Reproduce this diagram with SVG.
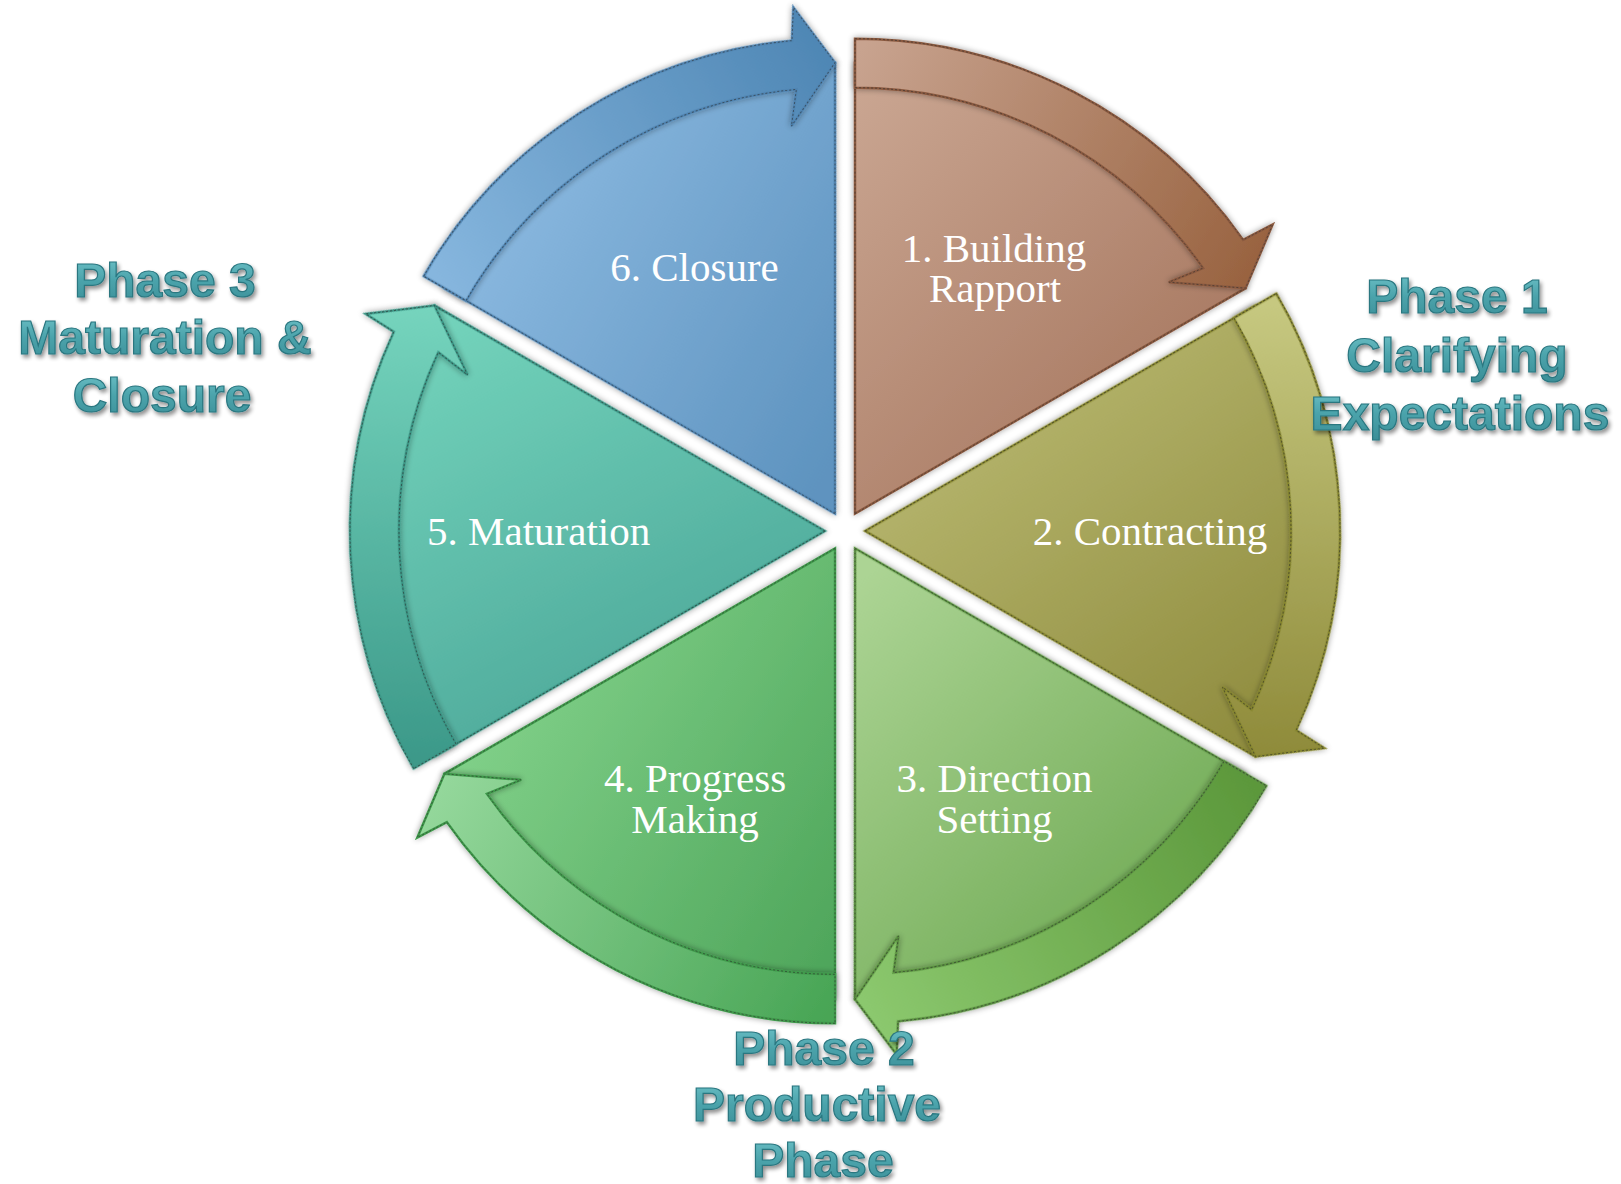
<svg xmlns="http://www.w3.org/2000/svg" xmlns:xlink="http://www.w3.org/1999/xlink" width="1621" height="1184" viewBox="0 0 1621 1184">
<style>
.lbl{font-family:"Liberation Serif","DejaVu Serif",serif;font-size:41px;fill:#ffffff;text-anchor:middle}
.ph{font-family:"Liberation Sans","DejaVu Sans",sans-serif;font-weight:bold;font-size:48px;text-anchor:middle;fill:url(#phg);stroke:#2a7780;stroke-width:1.2;filter:url(#tsh)}
.stitch{fill:none;stroke:#2a2a2a;stroke-opacity:0.55;stroke-width:1;stroke-dasharray:2 2}
.edge{stroke-width:2.5;stroke-linejoin:miter}
</style>
<defs>
<filter id="sh" x="-10%" y="-10%" width="120%" height="120%">
<feGaussianBlur in="SourceAlpha" stdDeviation="3"/>
<feComponentTransfer><feFuncA type="linear" slope="0.4"/></feComponentTransfer>
<feMerge><feMergeNode/><feMergeNode in="SourceGraphic"/></feMerge>
</filter>
<filter id="tsh" x="-10%" y="-20%" width="120%" height="150%">
<feGaussianBlur in="SourceAlpha" stdDeviation="2"/>
<feOffset dx="2" dy="3" result="o"/>
<feComponentTransfer><feFuncA type="linear" slope="0.45"/></feComponentTransfer>
<feMerge><feMergeNode/><feMergeNode in="SourceGraphic"/></feMerge>
</filter>
<linearGradient id="phg" x1="0" y1="0" x2="0" y2="1">
<stop offset="0" stop-color="#6fc3c9"/><stop offset="0.5" stop-color="#4ba3ab"/><stop offset="1" stop-color="#3a8e97"/>
</linearGradient>
<path id="body" d="M 855 513.68 L 855 62.68 A 451 451 0 0 1 1245.58 288.18 Z"/>
<path id="band" d="M 855 38.68 A 475 475 0 0 1 1243.14 239.88 L 1272.65 224.49 L 1245.58 288.18 L 1168.84 282.15 L 1203.1 268.12 A 426 426 0 0 0 855 87.68 Z"/>
<linearGradient id="gB0" gradientUnits="userSpaceOnUse" x1="880" y1="60" x2="1230" y2="420"><stop offset="0" stop-color="#caa692"/><stop offset="1" stop-color="#a5755d"/></linearGradient>
<linearGradient id="gB1" gradientUnits="userSpaceOnUse" gradientTransform="rotate(-60 845 531)" x1="950" y1="320" x2="1260" y2="740"><stop offset="0" stop-color="#bcbc75"/><stop offset="1" stop-color="#8f8c3e"/></linearGradient>
<linearGradient id="gB2" gradientUnits="userSpaceOnUse" gradientTransform="rotate(-120 845 531)" x1="870" y1="570" x2="1200" y2="930"><stop offset="0" stop-color="#acd494"/><stop offset="1" stop-color="#6ea953"/></linearGradient>
<linearGradient id="gB3" gradientUnits="userSpaceOnUse" gradientTransform="rotate(-180 845 531)" x1="430" y1="720" x2="830" y2="960"><stop offset="0" stop-color="#85d48d"/><stop offset="1" stop-color="#4fa65b"/></linearGradient>
<linearGradient id="gB4" gradientUnits="userSpaceOnUse" gradientTransform="rotate(-240 845 531)" x1="430" y1="310" x2="650" y2="760"><stop offset="0" stop-color="#74d4bc"/><stop offset="1" stop-color="#4aa597"/></linearGradient>
<linearGradient id="gB5" gradientUnits="userSpaceOnUse" gradientTransform="rotate(-300 845 531)" x1="430" y1="240" x2="830" y2="470"><stop offset="0" stop-color="#8dbbe2"/><stop offset="1" stop-color="#5e93bf"/></linearGradient>
<linearGradient id="gA0" gradientUnits="userSpaceOnUse" x1="855" y1="60" x2="1250" y2="290"><stop offset="0" stop-color="#c8a38f"/><stop offset="1" stop-color="#98623f"/></linearGradient>
<linearGradient id="gA1" gradientUnits="userSpaceOnUse" x1="855" y1="60" x2="1250" y2="290"><stop offset="0" stop-color="#c6c880"/><stop offset="1" stop-color="#8e8a39"/></linearGradient>
<linearGradient id="gA2" gradientUnits="userSpaceOnUse" x1="855" y1="60" x2="1250" y2="290"><stop offset="0" stop-color="#5c983b"/><stop offset="1" stop-color="#8cc96f"/></linearGradient>
<linearGradient id="gA3" gradientUnits="userSpaceOnUse" x1="855" y1="60" x2="1250" y2="290"><stop offset="0" stop-color="#48a555"/><stop offset="1" stop-color="#95d89c"/></linearGradient>
<linearGradient id="gA4" gradientUnits="userSpaceOnUse" x1="855" y1="60" x2="1250" y2="290"><stop offset="0" stop-color="#3c9989"/><stop offset="1" stop-color="#76d5be"/></linearGradient>
<linearGradient id="gA5" gradientUnits="userSpaceOnUse" x1="855" y1="60" x2="1250" y2="290"><stop offset="0" stop-color="#86b6de"/><stop offset="1" stop-color="#4e86b4"/></linearGradient>
</defs>
<rect x="0" y="0" width="1621" height="1184" fill="#ffffff"/>

<g id="nodes">
<g id="node1">
<g filter="url(#sh)"><use href="#body" class="edge" fill="url(#gB0)" stroke="#8b5a40"/></g>
<use href="#body" class="stitch"/>
<text class="lbl" x="994" y="262">1. Building</text>
<text class="lbl" x="995" y="302">Rapport</text>
</g>
<g id="node2">
<g transform="rotate(60 845 531)"><g filter="url(#sh)"><use href="#body" class="edge" fill="url(#gB1)" stroke="#86862f"/></g><use href="#body" class="stitch"/></g>
<text class="lbl" x="1150" y="545">2. Contracting</text>
</g>
<g id="node3">
<g transform="rotate(120 845 531)"><g filter="url(#sh)"><use href="#body" class="edge" fill="url(#gB2)" stroke="#5a9140"/></g><use href="#body" class="stitch"/></g>
<text class="lbl" x="994.5" y="792">3. Direction</text>
<text class="lbl" x="994.5" y="833">Setting</text>
</g>
<g id="node4">
<g transform="rotate(180 845 531)"><g filter="url(#sh)"><use href="#body" class="edge" fill="url(#gB3)" stroke="#3f9a4c"/></g><use href="#body" class="stitch"/></g>
<text class="lbl" x="695" y="792">4. Progress</text>
<text class="lbl" x="695" y="833">Making</text>
</g>
<g id="node5">
<g transform="rotate(240 845 531)"><g filter="url(#sh)"><use href="#body" class="edge" fill="url(#gB4)" stroke="#3a9484"/></g><use href="#body" class="stitch"/></g>
<text class="lbl" x="538.6" y="545">5. Maturation</text>
</g>
<g id="node6">
<g transform="rotate(300 845 531)"><g filter="url(#sh)"><use href="#body" class="edge" fill="url(#gB5)" stroke="#4f83b0"/></g><use href="#body" class="stitch"/></g>
<text class="lbl" x="694.5" y="281">6. Closure</text>
</g>
</g>

<g id="connectors">
<g id="arrow1"><g filter="url(#sh)"><use href="#band" class="edge" fill="url(#gA0)" stroke="#8b5a40"/></g><use href="#band" class="stitch"/></g>
<g id="arrow2" transform="rotate(60 845 531)"><g filter="url(#sh)"><use href="#band" class="edge" fill="url(#gA1)" stroke="#86862f"/></g><use href="#band" class="stitch"/></g>
<g id="arrow3" transform="rotate(120 845 531)"><g filter="url(#sh)"><use href="#band" class="edge" fill="url(#gA2)" stroke="#5a9140"/></g><use href="#band" class="stitch"/></g>
<g id="arrow4" transform="rotate(180 845 531)"><g filter="url(#sh)"><use href="#band" class="edge" fill="url(#gA3)" stroke="#3f9a4c"/></g><use href="#band" class="stitch"/></g>
<g id="arrow5" transform="rotate(240 845 531)"><g filter="url(#sh)"><use href="#band" class="edge" fill="url(#gA4)" stroke="#3a9484"/></g><use href="#band" class="stitch"/></g>
<g id="arrow6" transform="rotate(300 845 531)"><g filter="url(#sh)"><use href="#band" class="edge" fill="url(#gA5)" stroke="#4f83b0"/></g><use href="#band" class="stitch"/></g>
</g>

<g id="phase1">
<text class="ph" x="1457" y="313">Phase 1</text>
<text class="ph" x="1457" y="372">Clarifying</text>
<text class="ph" x="1460" y="430">Expectations</text>
</g>
<g id="phase2">
<text class="ph" x="824" y="1065">Phase 2</text>
<text class="ph" x="817" y="1121">Productive</text>
<text class="ph" x="823" y="1177">Phase</text>
</g>
<g id="phase3">
<text class="ph" x="165" y="297">Phase 3</text>
<text class="ph" x="165" y="354">Maturation &amp;</text>
<text class="ph" x="162" y="412">Closure</text>
</g>
</svg>
